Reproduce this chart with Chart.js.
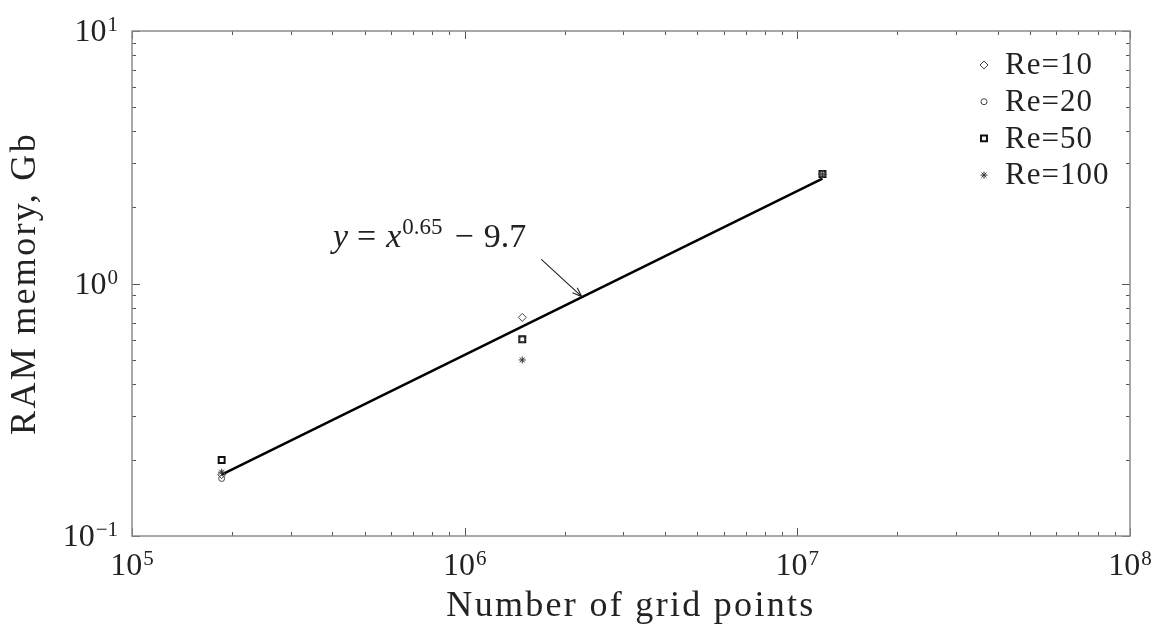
<!DOCTYPE html>
<html>
<head>
<meta charset="utf-8">
<script src="https://cdn.jsdelivr.net/npm/chart.js@4.4.1/dist/chart.umd.min.js"></script>
<style>
  body { margin: 0; background: #fff; }
  canvas { display: block; }
</style>
</head>
<body>
<canvas id="ramChart" width="1165" height="630"></canvas>
<script>
// grid sizes of the three meshes
const gridPoints = [1.86e5, 1.49e6, 1.19e7];

// RAM used per Reynolds number, Gb
const ramRe10 = [0.175, 0.734, 2.71];
const ramRe20 = [0.169, 0.600, 2.71];
const ramRe50 = [0.200, 0.601, 2.716];
const ramRe100 = [0.179, 0.498, 2.71];

// power-law fit, ends at the smallest and largest mesh
const fitX = [1.86e5, 1.19e7];
const fitY = [0.175, 2.6];

// decade exponents shown on the log axes
const xTickExps = [5, 6, 7, 8];
const yTickExps = [-1, 0, 1];

const serif = "'Liberation Serif', 'Times New Roman', serif";

function points(ys) {
  return gridPoints.map((g, i) => ({ x: g, y: ys[i] }));
}

function expText(exp) {
  return exp < 0 ? "\u2212" + Math.abs(exp) : String(exp);
}

// "10" with a raised exponent, x is the left edge
function drawPower(ctx, exp, x, base) {
  ctx.font = "32px " + serif;
  ctx.fillText("10", x, base);
  const w = ctx.measureText("10").width;
  ctx.font = "21px " + serif;
  ctx.fillText(expText(exp), x + w + 1, base - 10);
}

function powerWidth(ctx, exp) {
  ctx.font = "32px " + serif;
  const w = ctx.measureText("10").width;
  ctx.font = "21px " + serif;
  return w + 1 + ctx.measureText(expText(exp)).width;
}

// wider letter spacing for the axis titles only
const titleSpacing = {
  id: "titleSpacing",
  beforeDraw(chart) { chart.ctx.letterSpacing = "2.3px"; },
  beforeDatasetsDraw(chart) { chart.ctx.letterSpacing = "0px"; }
};

// box, inward ticks, tick labels, legend and fit note
const decor = {
  id: "decor",
  afterDraw(chart) {
    const { ctx, chartArea: a, scales } = chart;
    const xs = scales.x, ys = scales.y;
    ctx.save();
    ctx.letterSpacing = "0px";

    ctx.strokeStyle = "#555";
    ctx.lineWidth = 1;
    ctx.beginPath();
    for (let e = 5; e <= 8; e++) {
      for (let m = 1; m <= 9; m++) {
        const v = m * Math.pow(10, e);
        if (v > xs.max) break;
        const px = Math.round(xs.getPixelForValue(v)) + 0.5;
        const len = m === 1 ? 8 : 4;
        ctx.moveTo(px, a.bottom); ctx.lineTo(px, a.bottom - len);
        ctx.moveTo(px, a.top); ctx.lineTo(px, a.top + len);
      }
    }
    for (let e = -1; e <= 1; e++) {
      for (let m = 1; m <= 9; m++) {
        const v = m * Math.pow(10, e);
        if (v > ys.max * 1.0001) break;
        const py = Math.round(ys.getPixelForValue(v)) + 0.5;
        const len = m === 1 ? 8 : 4;
        ctx.moveTo(a.left, py); ctx.lineTo(a.left + len, py);
        ctx.moveTo(a.right, py); ctx.lineTo(a.right - len, py);
      }
    }
    ctx.stroke();

    ctx.strokeStyle = "#8c8c8c";
    ctx.lineWidth = 1.5;
    ctx.strokeRect(a.left, a.top, a.right - a.left, a.bottom - a.top);

    // tick labels
    ctx.fillStyle = "#222";
    ctx.textBaseline = "alphabetic";
    ctx.textAlign = "left";
    xTickExps.forEach((e) => {
      const px = xs.getPixelForValue(Math.pow(10, e));
      const w = powerWidth(ctx, e);
      drawPower(ctx, e, px - w / 2, a.bottom + 39);
    });
    yTickExps.forEach((e) => {
      const py = ys.getPixelForValue(Math.pow(10, e));
      const w = powerWidth(ctx, e);
      drawPower(ctx, e, a.left - 14 - w, py + 10);
    });

    // legend in the upper right corner
    const helpers = Chart.helpers;
    chart.data.datasets.forEach((ds, i) => {
      if (!ds.inLegend) return;
      const ly = a.top + 34 + i * 36.7;
      ctx.strokeStyle = ds.borderColor;
      ctx.fillStyle = "rgba(0,0,0,0)";
      ctx.lineWidth = ds.borderWidth;
      helpers.drawPoint(ctx, {
        pointStyle: ds.pointStyle,
        radius: ds.pointRadius,
        rotation: 0,
        borderWidth: ds.borderWidth
      }, a.right - 146, ly);
      ctx.fillStyle = "#222";
      ctx.font = "31px " + serif;
      ctx.letterSpacing = "1px";
      ctx.textBaseline = "middle";
      ctx.fillText(ds.label, a.right - 125, ly + 1);
      ctx.letterSpacing = "0px";
    });

    // fit formula with an arrow onto the line
    ctx.textBaseline = "alphabetic";
    ctx.fillStyle = "#222";
    let tx = xs.getPixelForValue(4.02e5);
    const tb = ys.getPixelForValue(1.395);
    const part = (txt, font, dy, gap) => {
      ctx.font = font;
      ctx.fillText(txt, tx, tb + dy);
      tx += ctx.measureText(txt).width + gap;
    };
    part("y", "italic 34px " + serif, 0, 9);
    part("=", "34px " + serif, 0, 10);
    part("x", "italic 34px " + serif, 0, 1);
    part("0.65", "23px " + serif, -13, 12);
    part("\u2212", "34px " + serif, 0, 10);
    part("9.7", "34px " + serif, 0, 0);

    const x0 = xs.getPixelForValue(1.70e6), y0 = ys.getPixelForValue(1.247);
    const x1 = xs.getPixelForValue(2.25e6), y1 = ys.getPixelForValue(0.887);
    const ang = Math.atan2(y1 - y0, x1 - x0);
    ctx.strokeStyle = "#222";
    ctx.lineWidth = 1.1;
    ctx.beginPath();
    ctx.moveTo(x0, y0); ctx.lineTo(x1, y1);
    ctx.moveTo(x1, y1); ctx.lineTo(x1 - 10 * Math.cos(ang - 0.35), y1 - 10 * Math.sin(ang - 0.35));
    ctx.moveTo(x1, y1); ctx.lineTo(x1 - 10 * Math.cos(ang + 0.35), y1 - 10 * Math.sin(ang + 0.35));
    ctx.stroke();

    ctx.restore();
  }
};

function markerSet(label, ys, style, radius, color, width) {
  return {
    label: label,
    data: points(ys),
    showLine: false,
    pointStyle: style,
    pointRadius: radius,
    borderColor: color,
    backgroundColor: "rgba(0,0,0,0)",
    borderWidth: width,
    pointBorderWidth: width,
    inLegend: true
  };
}

new Chart(document.getElementById("ramChart"), {
  type: "scatter",
  data: {
    datasets: [
      markerSet("Re=10", ramRe10, "rectRot", 4, "#444", 1),
      markerSet("Re=20", ramRe20, "circle", 3, "#444", 1),
      markerSet("Re=50", ramRe50, "rect", 4.2, "#111", 2),
      markerSet("Re=100", ramRe100, "star", 3.5, "#333", 1),
      {
        label: "fit",
        data: fitX.map((x, i) => ({ x: x, y: fitY[i] })),
        showLine: true,
        borderColor: "#000",
        borderWidth: 2.5,
        pointRadius: 0,
        inLegend: false
      }
    ]
  },
  options: {
    responsive: false,
    animation: false,
    layout: { padding: { top: 31, right: 35, left: 0, bottom: 0 } },
    plugins: { legend: { display: false }, tooltip: { enabled: false } },
    scales: {
      x: {
        type: "logarithmic",
        min: 1e5,
        max: 1e8,
        grid: { display: false },
        border: { display: false },
        ticks: { display: false },
        title: {
          display: true,
          text: "Number of grid points",
          color: "#222",
          font: { family: serif, size: 36 },
          padding: { top: 0, bottom: 2 }
        },
        afterFit(s) { s.height = 94; }
      },
      y: {
        type: "logarithmic",
        min: 0.1,
        max: 10,
        grid: { display: false },
        border: { display: false },
        ticks: { display: false },
        title: {
          display: true,
          text: "RAM memory, Gb",
          color: "#222",
          font: { family: serif, size: 36 },
          padding: { top: 4, bottom: 0 }
        },
        afterFit(s) { s.width = 132; }
      }
    }
  },
  plugins: [titleSpacing, decor]
});
</script>
</body>
</html>
